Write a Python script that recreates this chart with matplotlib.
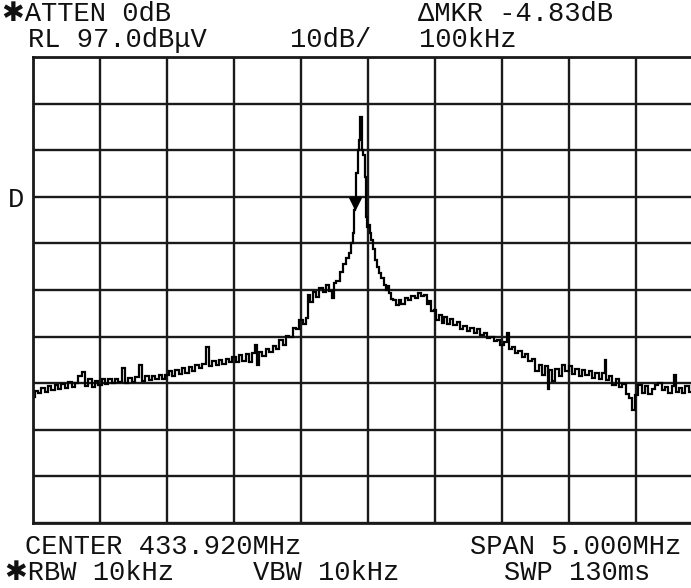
import matplotlib
matplotlib.use("Agg")
import matplotlib.pyplot as plt

# ---- instrument settings ----
center_mhz = 433.920
span_khz = 5000
ref_level = 97.0
db_per_div = 10

# ---- trace: frequency offset from center (kHz) and level (dBuV) ----
freq_offset_khz = [
    -2500, -2475, -2450, -2425, -2400, -2375, -2350, -2325, -2300, -2275,
    -2250, -2225, -2200, -2175, -2150, -2125, -2100, -2075, -2050, -2025,
    -2000, -1975, -1950, -1925, -1900, -1875, -1850, -1825, -1800, -1775,
    -1750, -1725, -1700, -1675, -1650, -1625, -1600, -1575, -1550, -1525,
    -1500, -1475, -1450, -1425, -1400, -1375, -1350, -1325, -1300, -1275,
    -1250, -1225, -1200, -1175, -1150, -1125, -1100, -1075, -1050, -1025,
    -1000, -975, -950, -925, -900, -875, -850, -830, -820, -800,
    -775, -750, -725, -700, -675, -650, -625, -600, -575, -550,
    -525, -500, -475, -450, -440, -425, -400, -375, -350, -325,
    -300, -275, -260, -250, -225, -200, -175, -150, -135, -120,
    -110, -100, -90, -82, -70, -60, -52, -45, -38, -30,
    -22, -15, 0, 8, 15, 30, 45, 60, 75, 90,
    110, 125, 140, 150, 165, 180, 200, 220, 240, 260,
    285, 310, 335, 360, 385, 410, 430, 450, 465, 480,
    500, 520, 540, 560, 580, 600, 625, 650, 675, 700,
    725, 750, 775, 800, 825, 850, 875, 900, 925, 950,
    975, 1000, 1025, 1045, 1060, 1085, 1110, 1135, 1160, 1185,
    1210, 1235, 1260, 1285, 1310, 1335, 1345, 1360, 1385, 1410,
    1435, 1460, 1485, 1510, 1535, 1560, 1585, 1610, 1635, 1660,
    1685, 1710, 1735, 1760, 1770, 1785, 1810, 1835, 1860, 1885,
    1910, 1935, 1955, 1980, 2005, 2030, 2055, 2080, 2105, 2130,
    2155, 2180, 2205, 2230, 2255, 2280, 2292, 2305, 2330, 2355,
    2380, 2405, 2430, 2455, 2480, 2500,
]
level_dbuv = [
    24.0, 25.4, 24.8, 26.0, 25.2, 26.3, 25.5, 26.6, 25.8, 26.9,
    26.0, 27.2, 26.2, 27.0, 28.6, 29.4, 26.4, 27.8, 26.2, 27.4,
    26.6, 27.8, 26.9, 27.9, 27.0, 28.0, 27.2, 30.3, 27.0, 28.2,
    27.3, 28.4, 30.9, 27.4, 28.5, 27.6, 28.6, 27.8, 28.8, 28.0,
    28.8, 29.6, 28.6, 29.8, 28.9, 30.2, 29.2, 30.5, 29.6, 30.8,
    30.2, 31.2, 34.8, 30.6, 31.8, 30.8, 32.0, 31.2, 32.3, 31.6,
    32.6, 31.6, 33.0, 31.8, 33.2, 31.6, 33.4, 35.2, 30.9, 33.6,
    32.8, 34.4, 33.6, 35.0, 34.4, 36.3, 35.2, 37.2, 37.0, 38.8,
    38.6, 40.6, 39.8, 41.0, 45.9, 44.4, 46.6, 45.6, 47.4, 46.6,
    48.0, 46.8, 45.3, 48.6, 49.0, 50.8, 52.6, 53.8, 54.9, 57.0,
    59.2, 64.2, 66.3, 72.1, 77.0, 79.2, 84.1, 83.9, 77.0, 76.0,
    71.2, 62.7, 60.5, 61.0, 59.2, 57.7, 55.8, 53.4, 52.0, 50.6,
    49.6, 48.1, 47.0, 47.8, 46.4, 45.0, 44.8, 43.8, 44.8, 44.0,
    45.2, 44.8, 45.8, 45.2, 46.4, 45.8, 46.0, 44.0, 44.6, 42.6,
    42.8, 40.6, 41.6, 40.0, 41.2, 39.8, 40.8, 39.4, 40.2, 38.6,
    39.2, 38.2, 38.8, 37.8, 38.6, 37.4, 37.8, 36.8, 37.0, 36.0,
    36.2, 35.2, 35.8, 37.8, 34.4, 34.8, 33.4, 34.0, 32.6, 33.2,
    31.8, 32.2, 29.6, 30.8, 28.8, 30.6, 25.8, 29.8, 27.4, 30.0,
    28.6, 30.8, 29.6, 30.6, 29.0, 30.0, 28.6, 29.8, 28.8, 29.6,
    28.2, 29.2, 27.8, 29.2, 32.0, 27.6, 28.6, 26.6, 27.8, 26.2,
    26.8, 24.6, 23.8, 21.2, 24.4, 26.6, 24.8, 26.4, 24.6, 25.8,
    26.6, 27.0, 25.6, 26.2, 25.0, 26.4, 28.8, 25.2, 26.0, 24.8,
    26.4, 25.2, 26.6, 25.4, 26.4, 25.8,
]

# marker
marker_offset_khz = -97
marker_level = 65.6

# annotation texts
top_left_1 = "\u2731ATTEN 0dB"
top_right_1 = "\u0394MKR -4.83dB"
top_left_2 = "RL 97.0dB\u03bcV"
top_mid_2 = "10dB/"
top_right_2 = "100kHz"
side_label = "D"
bot_left_1 = "CENTER 433.920MHz"
bot_right_1 = "SPAN 5.000MHz"
bot_left_2 = "\u2731RBW 10kHz"
bot_mid_2 = "VBW 10kHz"
bot_right_2 = "SWP 130ms"

W, H = 691, 588
fig = plt.figure(figsize=(W / 100, H / 100), dpi=100)
fig.patch.set_facecolor("white")

left_px, right_px, top_px, bot_px = 33, 703, 57, 523
ax = fig.add_axes([left_px / W, 1 - bot_px / H, (right_px - left_px) / W, (bot_px - top_px) / H])

x_lo, x_hi = -span_khz / 2, span_khz / 2
y_lo, y_hi = ref_level - 10 * db_per_div, ref_level
ax.set_xlim(x_lo, x_hi)
ax.set_ylim(y_lo, y_hi)

grid_col = "#1a1a1a"
ax.set_xticks([x_lo + i * span_khz / 10 for i in range(11)])
ax.set_yticks([y_lo + i * db_per_div for i in range(11)])
ax.tick_params(length=0, labelbottom=False, labelleft=False)
ax.grid(True, color=grid_col, linewidth=1.7)
for s in ax.spines.values():
    s.set_linewidth(2.0)
    s.set_color(grid_col)
ax.set_axisbelow(True)

ax.plot(freq_offset_khz, level_dbuv, color="black", linewidth=1.6,
        drawstyle="steps-mid", solid_joinstyle="miter")
ax.plot([marker_offset_khz], [marker_level], marker="v", color="black",
        markersize=8, linestyle="none")

fam = ["Liberation Mono", "DejaVu Sans"]
fs = 19.5


def put(txt, xp, yp, size=fs):
    fig.text(xp / W, 1 - yp / H, txt, family=fam, fontsize=size,
             ha="left", va="baseline", color="#111111")


put(top_left_1, 2, 21)
put(top_right_1, 418, 21)
put(top_left_2, 28, 47)
put(top_mid_2, 290, 47)
put(top_right_2, 419, 47)
put(side_label, 8, 207)
put(bot_left_1, 25, 554)
put(bot_right_1, 470, 554)
put(bot_left_2, 5, 580)
put(bot_mid_2, 253, 580)
put(bot_right_2, 504, 580)

fig.savefig("out.png", dpi=100, facecolor="white")
